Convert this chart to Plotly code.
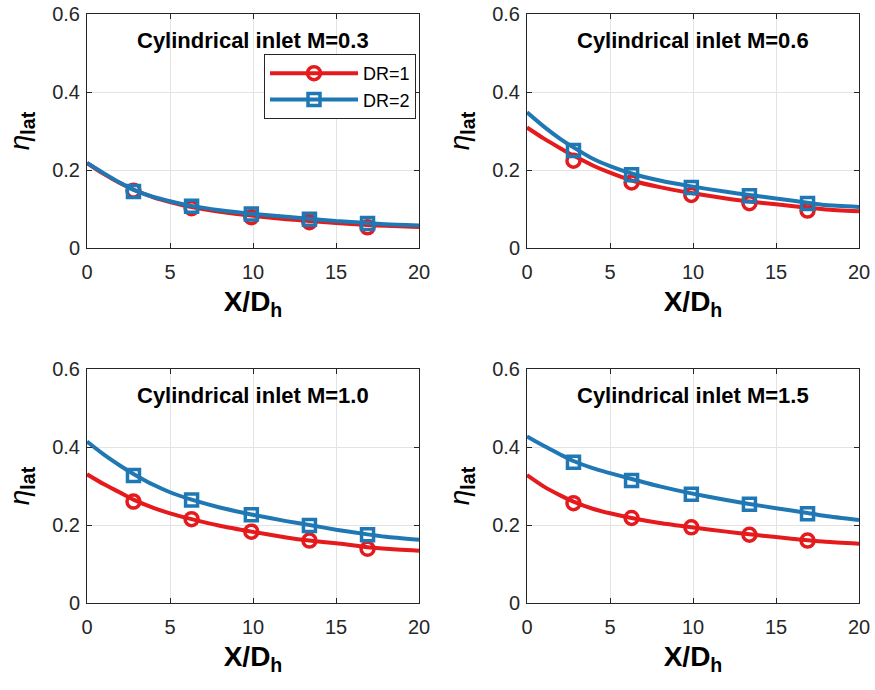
import plotly.graph_objects as go

# ---------------- data ----------------
titles = ["Cylindrical inlet M=0.3", "Cylindrical inlet M=0.6",
          "Cylindrical inlet M=1.0", "Cylindrical inlet M=1.5"]

x_line = [0, 1, 2, 2.8, 4, 5, 6.3, 8, 9.9, 12, 13.4, 15, 16.9, 18, 20]
x_mark = [2.8, 6.3, 9.9, 13.4, 16.9]

# DR=1 curves
dr1_line = [
    [0.218, 0.190, 0.166, 0.150, 0.130, 0.118, 0.105, 0.093, 0.083, 0.074, 0.069, 0.064, 0.059, 0.057, 0.054],
    [0.309, 0.281, 0.256, 0.237, 0.211, 0.193, 0.173, 0.156, 0.141, 0.127, 0.119, 0.112, 0.103, 0.099, 0.094],
    [0.330, 0.305, 0.283, 0.265, 0.244, 0.230, 0.215, 0.198, 0.183, 0.168, 0.160, 0.153, 0.143, 0.139, 0.134],
    [0.328, 0.299, 0.276, 0.260, 0.241, 0.230, 0.218, 0.205, 0.194, 0.183, 0.176, 0.169, 0.161, 0.157, 0.152],
]
dr1_mark = [
    [0.147, 0.102, 0.079, 0.066, 0.053],
    [0.224, 0.168, 0.136, 0.115, 0.096],
    [0.260, 0.215, 0.183, 0.160, 0.139],
    [0.256, 0.218, 0.194, 0.175, 0.160],
]

# DR=2 curves
dr2_line = [
    [0.218, 0.192, 0.167, 0.149, 0.131, 0.120, 0.108, 0.097, 0.088, 0.080, 0.075, 0.069, 0.064, 0.061, 0.058],
    [0.348, 0.312, 0.280, 0.258, 0.228, 0.210, 0.191, 0.173, 0.158, 0.144, 0.136, 0.127, 0.116, 0.110, 0.105],
    [0.414, 0.381, 0.352, 0.331, 0.303, 0.284, 0.265, 0.245, 0.227, 0.210, 0.200, 0.188, 0.176, 0.170, 0.162],
    [0.427, 0.403, 0.381, 0.364, 0.345, 0.333, 0.318, 0.299, 0.281, 0.264, 0.254, 0.243, 0.231, 0.223, 0.213],
]
dr2_mark = [
    [0.145, 0.107, 0.087, 0.074, 0.063],
    [0.250, 0.188, 0.155, 0.134, 0.114],
    [0.327, 0.264, 0.226, 0.199, 0.175],
    [0.361, 0.314, 0.279, 0.253, 0.229],
]

series_names = ["DR=1", "DR=2"]
x_ticks = [0, 5, 10, 15, 20]
y_ticks = [0, 0.2, 0.4, 0.6]
y_tick_text = ["0", "0.2", "0.4", "0.6"]

# ---------------- style ----------------
RED = "#E41A1C"
BLUE = "#1F78B4"
FONT = "Liberation Sans, Arial, Helvetica, sans-serif"
TICKCOL = "#262626"

x_domains = [[87 / 875, 419 / 875], [527 / 875, 859 / 875]]
y_domains = [[1 - 248 / 690, 1 - 14 / 690], [1 - 603 / 690, 1 - 369 / 690]]

fig = go.Figure()

for i in range(4):
    row, col = divmod(i, 2)
    ax = "" if i == 0 else str(i + 1)
    xa, ya = "x" + ax, "y" + ax

    for lines, marks, color, sym, msize, name in [
        (dr1_line, dr1_mark, RED, "circle-open", 13, series_names[0]),
        (dr2_line, dr2_mark, BLUE, "square-open", 12, series_names[1]),
    ]:
        fig.add_trace(go.Scatter(
            x=x_line, y=lines[i], mode="lines",
            line=dict(color=color, width=4, shape="spline", smoothing=0.6),
            xaxis=xa, yaxis=ya, showlegend=False, hoverinfo="skip"))
        fig.add_trace(go.Scatter(
            x=x_mark, y=marks[i], mode="markers",
            marker=dict(symbol=sym, color=color, size=msize,
                        line=dict(color=color, width=3.5)),
            xaxis=xa, yaxis=ya, showlegend=False))

    axis_common = dict(
        showline=True, linecolor="#262626", linewidth=1, mirror="ticks",
        ticks="inside", ticklen=5, tickcolor="#262626", automargin=False,
        showgrid=True, gridcolor="#E3E3E3", gridwidth=1, zeroline=False,
        tickfont=dict(family=FONT, size=20, color=TICKCOL),
    )
    fig.update_layout(**{
        ("xaxis" + ax): dict(
            axis_common, domain=x_domains[col], range=[0, 20],
            tickvals=x_ticks, anchor=ya, ticklabelstandoff=6,
            title=dict(text="<b>X/D<sub>h</sub></b>",
                       font=dict(family=FONT, size=28, color="black"),
                       standoff=9)),
        ("yaxis" + ax): dict(
            axis_common, domain=y_domains[row], range=[0, 0.6],
            tickvals=y_ticks, ticktext=y_tick_text, anchor=xa,
            ticklabelstandoff=2,
            title=dict(text="<i>η</i><sub><b>lat</b></sub>",
                       font=dict(family=FONT, size=28, color="black"),
                       standoff=14)),
    })
    fig.add_annotation(
        x=10, y=0.533, xref=xa, yref=ya, text="<b>" + titles[i] + "</b>",
        showarrow=False, font=dict(family=FONT, size=22, color="black"))

# legend entries (first panel)
fig.add_trace(go.Scatter(
    x=[None], y=[None], mode="lines+markers", name=series_names[0],
    line=dict(color=RED, width=4),
    marker=dict(symbol="circle-open", size=13, color=RED, line=dict(color=RED, width=3.5))))
fig.add_trace(go.Scatter(
    x=[None], y=[None], mode="lines+markers", name=series_names[1],
    line=dict(color=BLUE, width=4),
    marker=dict(symbol="square-open", size=12, color=BLUE, line=dict(color=BLUE, width=3.5))))

fig.update_layout(
    template="none",
    width=875, height=690,
    margin=dict(l=0, r=0, t=0, b=0, autoexpand=False),
    paper_bgcolor="white", plot_bgcolor="white",
    showlegend=True,
    legend=dict(x=264 / 875, y=1 - 54 / 690, xanchor="left", yanchor="top",
                bgcolor="white", bordercolor="#262626", borderwidth=1,
                font=dict(family=FONT, size=18, color="black"),
                tracegroupgap=0, itemwidth=88),
)

fig.write_html("out.html")
